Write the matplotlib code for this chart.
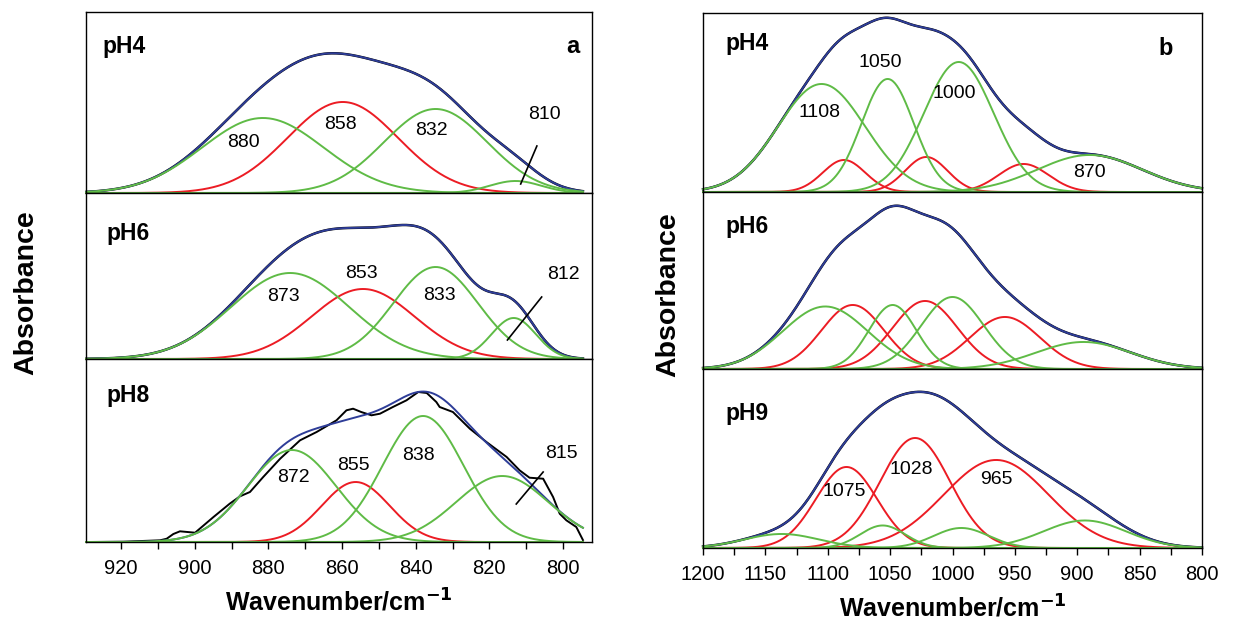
import numpy as np
import matplotlib
matplotlib.use('Agg')
import matplotlib.pyplot as plt
from matplotlib.ticker import MultipleLocator

plt.rcParams['font.family'] = ['Liberation Sans', 'DejaVu Sans']

# fitted bands: centre (cm-1), height, sigma, kind (g = green, r = red)
a_pH4_pos = [881.5, 859.8, 834.6, 812.9]
a_pH4_amp = [75, 91, 84, 12]
a_pH4_wid = [16.5, 15, 14, 7]
a_pH4_kind = ['g', 'r', 'g', 'g']

a_pH6_pos = [874.1, 854.3, 834.6, 813.4]
a_pH6_amp = [86, 70, 92, 41]
a_pH6_wid = [16, 14, 11.5, 6]
a_pH6_kind = ['g', 'r', 'g', 'g']

a_pH8_pos = [873.6, 856.3, 838.0, 816.5]
a_pH8_amp = [92, 60, 126, 66]
a_pH8_wid = [12, 9.2, 11, 12.5]
a_pH8_kind = ['g', 'r', 'g', 'g']

# measured pH8 spectrum (it departs visibly from the fit)
a_pH8_wn = [929.4, 919.4, 909.4, 907.6, 905.8, 904.0, 899.9, 894.9, 890.5, 887.7,
            885.0, 881.4, 876.8, 871.4, 866.9, 861.5, 858.8, 857.0, 854.8, 852.0,
            849.7, 846.2, 842.5, 839.3, 837.0, 834.4, 833.5, 829.9, 825.3, 820.8,
            815.3, 811.8, 809.1, 805.4, 802.7, 800.9, 799.1, 796.4, 794.6]
a_pH8_abs = [0.0, 0.3, 1.7, 3.3, 8.0, 10.7, 9.3, 25.0, 38.3, 45.7,
             50.0, 65.0, 83.3, 101.7, 110.0, 121.7, 131.7, 133.3, 130.0, 126.7,
             128.3, 135.0, 141.7, 150.0, 149.0, 140.0, 135.0, 130.0, 113.3, 100.0,
             85.0, 71.7, 64.3, 63.3, 45.0, 28.3, 21.7, 15.0, 2.0]

b_pH4_pos = [1105, 1052, 995, 890, 1087, 1021, 943]
b_pH4_amp = [108, 113, 130, 37, 32, 35, 28]
b_pH4_wid = [35, 21, 28, 42, 17, 17, 20]
b_pH4_kind = ['g', 'g', 'g', 'g', 'r', 'r', 'r']

b_pH6_pos = [1102, 1080, 1048, 1022, 1000, 958, 895]
b_pH6_amp = [62.5, 64, 64, 68, 72, 52, 27]
b_pH6_wid = [34, 25, 19, 26, 25, 28, 38]
b_pH6_kind = ['g', 'r', 'g', 'r', 'g', 'r', 'g']

b_pH9_pos = [1137, 1085, 1056, 1030, 993, 965, 894]
b_pH9_amp = [14, 81, 22.5, 110, 20, 88, 27.5]
b_pH9_wid = [30, 24.5, 18, 28, 22, 42, 33]
b_pH9_kind = ['g', 'r', 'g', 'r', 'g', 'r', 'g']

GREEN = '#5fbb46'
RED = '#ec1c24'
BLUE = '#2e3d98'
LW = 1.4


def gauss(x, p, a, w):
    return a * np.exp(-0.5 * ((x - p) / w) ** 2)


def bands(ax, x, pos, amp, wid, kind, meas=None):
    comps = [gauss(x, p, a, w) for p, a, w in zip(pos, amp, wid)]
    fit = np.sum(comps, axis=0)
    if meas is None:
        ax.plot(x, fit, color='k', lw=LW + 0.4, clip_on=False)
    else:
        ax.plot(meas[0], meas[1], color='k', lw=LW, clip_on=False)
    ax.plot(x, fit, color=BLUE, lw=LW, clip_on=False)
    for k in ['r', 'g']:
        for c, kk in zip(comps, kind):
            if kk == k:
                ax.plot(x, c, color=RED if k == 'r' else GREEN, lw=LW, clip_on=False)


fig = plt.figure(figsize=(12.38, 6.21), dpi=100)

gl = fig.add_gridspec(3, 1, left=0.0695, right=0.478, bottom=0.1272, top=0.9807,
                      height_ratios=[181, 166, 183], hspace=0)
gr = fig.add_gridspec(3, 1, left=0.5679, right=0.9709, bottom=0.1176, top=0.9791,
                      height_ratios=[179, 177, 179], hspace=0)

xa = np.linspace(929.4, 794.6, 400)
xb = np.linspace(1200, 800, 500)

left = [fig.add_subplot(gl[i]) for i in range(3)]
right = [fig.add_subplot(gr[i]) for i in range(3)]

bands(left[0], xa, a_pH4_pos, a_pH4_amp, a_pH4_wid, a_pH4_kind)
bands(left[1], xa, a_pH6_pos, a_pH6_amp, a_pH6_wid, a_pH6_kind)
bands(left[2], xa, a_pH8_pos, a_pH8_amp, a_pH8_wid, a_pH8_kind,
      meas=(a_pH8_wn, a_pH8_abs))
bands(right[0], xb, b_pH4_pos, b_pH4_amp, b_pH4_wid, b_pH4_kind)
bands(right[1], xb, b_pH6_pos, b_pH6_amp, b_pH6_wid, b_pH6_kind)
bands(right[2], xb, b_pH9_pos, b_pH9_amp, b_pH9_wid, b_pH9_kind)

for ax, h in zip(left, [181, 166, 183]):
    ax.set_xlim(929.5, 792.2)
    ax.set_ylim(0, h)
for ax, h in zip(right, [179, 177, 179]):
    ax.set_xlim(1200, 800)
    ax.set_ylim(0, h)

for ax in left + right:
    ax.set_yticks([])
    for s in ax.spines.values():
        s.set_linewidth(1.0)
for ax in left[:2] + right[:2]:
    ax.set_xticks([])

left[2].xaxis.set_major_locator(MultipleLocator(20))
left[2].xaxis.set_minor_locator(MultipleLocator(10))
right[2].xaxis.set_major_locator(MultipleLocator(50))
right[2].xaxis.set_minor_locator(MultipleLocator(25))
for ax in [left[2], right[2]]:
    ax.tick_params(axis='x', which='both', direction='out', length=5, width=1,
                   labelsize=14.5, pad=7)

bold = dict(fontsize=16.5, fontweight='bold', va='baseline')
left[0].text(0.033, 0.773, 'pH4', transform=left[0].transAxes, **bold)
left[1].text(0.041, 0.717, 'pH6', transform=left[1].transAxes, **bold)
left[2].text(0.041, 0.767, 'pH8', transform=left[2].transAxes, **bold)
left[0].text(0.976, 0.773, 'a', transform=left[0].transAxes, ha='right',
             fontsize=17, fontweight='bold', va='baseline')
right[0].text(0.044, 0.793, 'pH4', transform=right[0].transAxes, **bold)
right[1].text(0.044, 0.767, 'pH6', transform=right[1].transAxes, **bold)
right[2].text(0.044, 0.715, 'pH9', transform=right[2].transAxes, **bold)
right[0].text(0.942, 0.765, 'b', transform=right[0].transAxes, ha='right',
              fontsize=17, fontweight='bold', va='baseline')

lab = dict(fontsize=14, ha='center', va='center')
left[0].text(886.9, 50, '880', **lab)
left[0].text(860.4, 68, '858', **lab)
left[0].text(835.7, 62, '832', **lab)
left[0].text(805.0, 78, '810', **lab)
left[0].plot([807.1, 811.5], [47, 9], color='k', lw=1.2)
left[1].text(876.0, 62, '873', **lab)
left[1].text(854.7, 85, '853', **lab)
left[1].text(833.6, 63, '833', **lab)
left[1].text(800.0, 84, '812', **lab)
left[1].plot([805.8, 815.1], [62, 19], color='k', lw=1.2)
left[2].text(873.3, 65, '872', **lab)
left[2].text(857.0, 77, '855', **lab)
left[2].text(839.3, 87, '838', **lab)
left[2].text(800.4, 89, '815', **lab)
left[2].plot([805.4, 812.7], [70, 38], color='k', lw=1.2)
right[0].text(1106.7, 79, '1108', **lab)
right[0].text(1058, 129, '1050', **lab)
right[0].text(999, 98, '1000', **lab)
right[0].text(890, 19, '870', **lab)
right[2].text(1087, 56, '1075', **lab)
right[2].text(1032.7, 78, '1028', **lab)
right[2].text(965, 68, '965', **lab)

xl = r'Wavenumber/cm$^{\mathbf{-1}}$'
left[2].set_xlabel(xl, fontsize=18, fontweight='bold', labelpad=8)
right[2].set_xlabel(xl, fontsize=18, fontweight='bold', labelpad=8)
fig.text(0.021, 0.528, 'Absorbance', rotation=90, fontsize=20.5, fontweight='bold',
         ha='center', va='center')
fig.text(0.540, 0.525, 'Absorbance', rotation=90, fontsize=20.5, fontweight='bold',
         ha='center', va='center')

fig.savefig('out.png', dpi=100)
